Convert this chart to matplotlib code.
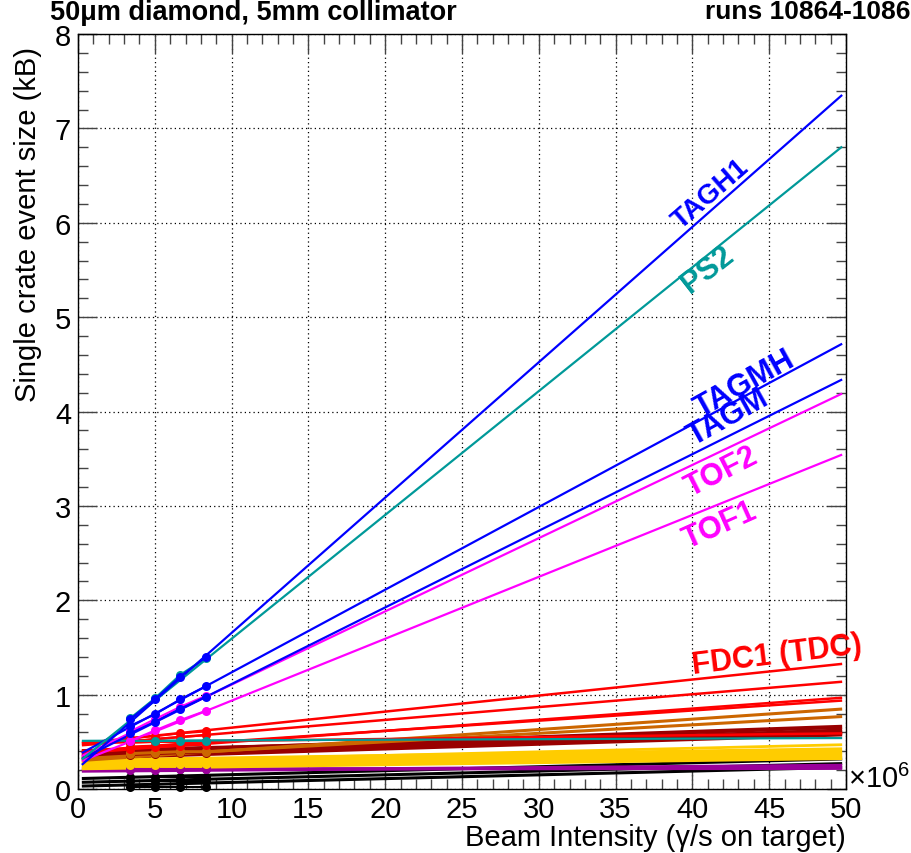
import numpy as np
import matplotlib
matplotlib.use("Agg")
import matplotlib.pyplot as plt
from matplotlib.ticker import MultipleLocator

plt.rcParams['font.family'] = ['Liberation Sans', 'DejaVu Sans']
plt.rcParams['mathtext.fontset'] = 'custom'
plt.rcParams['mathtext.rm'] = 'Liberation Sans'

# ---------------- data ----------------
x_pts = [3.4, 5.0, 6.65, 8.35]          # beam intensity (x10^6 gamma/s)
fit_x = [0.25, 49.75]                    # range of linear fits

crate_colors = [
    "#0000ff", "#009999", "#0000ff", "#0000ff", "#ff00ff", "#ff00ff",   # labelled
    "#009999",                                                        # flat teal
    "#ff0000", "#ff0000", "#ff0000", "#ff0000", "#ff0000",            # red
    "#cc6600", "#cc6600",                                             # orange
    "#990000", "#990000", "#990000", "#990000",                       # dark red
    "#ffcc00", "#ffcc00", "#ffcc00", "#ffcc00", "#ffcc00",            # yellow
    "#990099", "#990099",                                             # purple
    "#000000", "#000000", "#000000",                                  # black
]
fit_y0 = [0.22, 0.28, 0.36, 0.30, 0.33, 0.28,
          0.51,
          0.48, 0.46, 0.38, 0.40, 0.49,
          0.30, 0.32,
          0.38, 0.35, 0.33, 0.40,
          0.28, 0.30, 0.27, 0.24, 0.22,
          0.19, 0.21,
          0.11, 0.07, 0.03]
fit_y50 = [7.39, 6.84, 4.74, 4.36, 4.21, 3.56,
           0.54,
           1.33, 1.14, 0.97, 0.94, 0.59,
           0.85, 0.77,
           0.66, 0.62, 0.58, 0.60,
           0.47, 0.42, 0.39, 0.36, 0.33,
           0.25, 0.22,
           0.32, 0.27, 0.23]
point_y = [
    [0.74, 0.95, 1.19, 1.40],
    [0.75, 0.96, 1.21, 1.39],
    [0.67, 0.79, 0.95, 1.09],
    [0.59, 0.71, 0.85, 0.98],
    [0.61, 0.74, 0.87, 0.99],
    [0.51, 0.62, 0.73, 0.83],
    [0.51, 0.51, 0.51, 0.51],
    [0.54, 0.56, 0.59, 0.61],
    [0.50, 0.53, 0.55, 0.57],
    [0.45, 0.46, 0.48, 0.50],
    [0.42, 0.44, 0.46, 0.47],
    [0.49, 0.50, 0.50, 0.51],
    [0.38, 0.39, 0.40, 0.40],
    [0.37, 0.38, 0.39, 0.39],
    [0.40, 0.41, 0.42, 0.43],
    [0.38, 0.39, 0.40, 0.40],
    [0.36, 0.37, 0.38, 0.38],
    [0.41, 0.42, 0.43, 0.44],
    [0.30, 0.30, 0.31, 0.31],
    [0.31, 0.32, 0.32, 0.33],
    [0.29, 0.29, 0.30, 0.30],
    [0.27, 0.27, 0.28, 0.28],
    [0.25, 0.25, 0.26, 0.26],
    [0.20, 0.20, 0.21, 0.21],
    [0.21, 0.21, 0.21, 0.21],
    [0.13, 0.13, 0.13, 0.13],
    [0.08, 0.08, 0.08, 0.08],
    [0.02, 0.02, 0.02, 0.02],
]
line_widths = [1.6, 1.6, 1.6, 1.6, 1.6, 1.6,
               1.6,
               1.8, 1.8, 1.8, 1.8, 1.8,
               2.2, 2.2,
               3.0, 3.0, 3.0, 3.0,
               2.0, 3.0, 3.0, 3.0, 3.0,
               2.4, 2.4,
               2.2, 2.2, 2.2]

label_texts = ["TAGH1", "PS2", "TAGMH", "TAGM", "TOF2", "TOF1", "FDC1 (TDC)"]
label_colors = ["#0000ff", "#009999", "#0000ff", "#0000ff", "#ff00ff", "#ff00ff", "#ff0000"]
label_x = [41.2, 41.0, 43.4, 42.3, 41.9, 41.8, 45.5]
label_y = [6.31, 5.51, 4.30, 3.94, 3.37, 2.80, 1.42]
label_rot = [41, 38, 29, 29, 27, 24, 7]
label_size = [20, 22, 22, 22, 22, 22, 22]

x_ticks = [0, 5, 10, 15, 20, 25, 30, 35, 40, 45, 50]
y_ticks = [0, 1, 2, 3, 4, 5, 6, 7, 8]

# ---------------- figure ----------------
W, H = 912, 854
fig = plt.figure(figsize=(W / 100, H / 100), dpi=100)
ax = fig.add_axes([78 / W, 1 - 790 / H, (846 - 78) / W, (790 - 35) / H])

# draw from bottom crates upwards so labelled ones are on top
order = list(range(len(crate_colors)))[::-1]
for i in order:
    c = crate_colors[i]
    ax.plot(fit_x, [fit_y0[i] + (fit_y50[i] - fit_y0[i]) * fx / 50 for fx in fit_x],
            color=c, lw=line_widths[i], solid_capstyle='butt', zorder=2 + (len(order) - i) * 0.01)
    ax.plot(x_pts, point_y[i], color=c, lw=1.5, marker='o', ms=6.5,
            markeredgewidth=0, zorder=3, clip_on=False)

for t, c, x, y, r, s in zip(label_texts, label_colors, label_x, label_y, label_rot, label_size):
    ax.text(x, y, t, color=c, fontsize=s, fontweight='bold', rotation=r,
            ha='center', va='center', rotation_mode='anchor', zorder=5)

ax.set_xlim(0, 50)
ax.set_ylim(0, 8)
ax.set_xticks(x_ticks)
ax.set_yticks(y_ticks)
ax.xaxis.set_minor_locator(MultipleLocator(1))
ax.yaxis.set_minor_locator(MultipleLocator(0.2))
ax.tick_params(which='both', direction='in', top=True, right=True,
               labelsize=21, color='#444444', width=1)
ax.tick_params(which='major', length=14)
ax.tick_params(which='minor', length=7)
ax.tick_params(axis='x', pad=4)
ax.tick_params(axis='y', pad=5)
ax.grid(True, which='major', linestyle=(0, (1, 2.5)), color='black', lw=0.9)
for s in ax.spines.values():
    s.set_linewidth(1.0)
    s.set_color('black')

fig.text(28 / W, 1 - 225 / H, "Single crate event size (kB)", fontsize=21,
         rotation=90, ha='center', va='center')
fig.text(846 / W, 1 - 852 / H, "Beam Intensity (γ/s on target)", fontsize=21,
         ha='right', va='bottom')

ax.text(1.003, 0.014, r"$\times10^{6}$", transform=ax.transAxes,
        fontsize=21, ha='left', va='center')
fig.text(50 / W, 1 - 13 / H, "50μm diamond, 5mm collimator", fontsize=19.5,
         fontweight='bold', ha='left', va='center')
fig.text(911 / W, 1 - 12 / H, "runs 10864-1086", fontsize=19,
         fontweight='bold', ha='right', va='center')

fig.savefig("out.png", dpi=100)
